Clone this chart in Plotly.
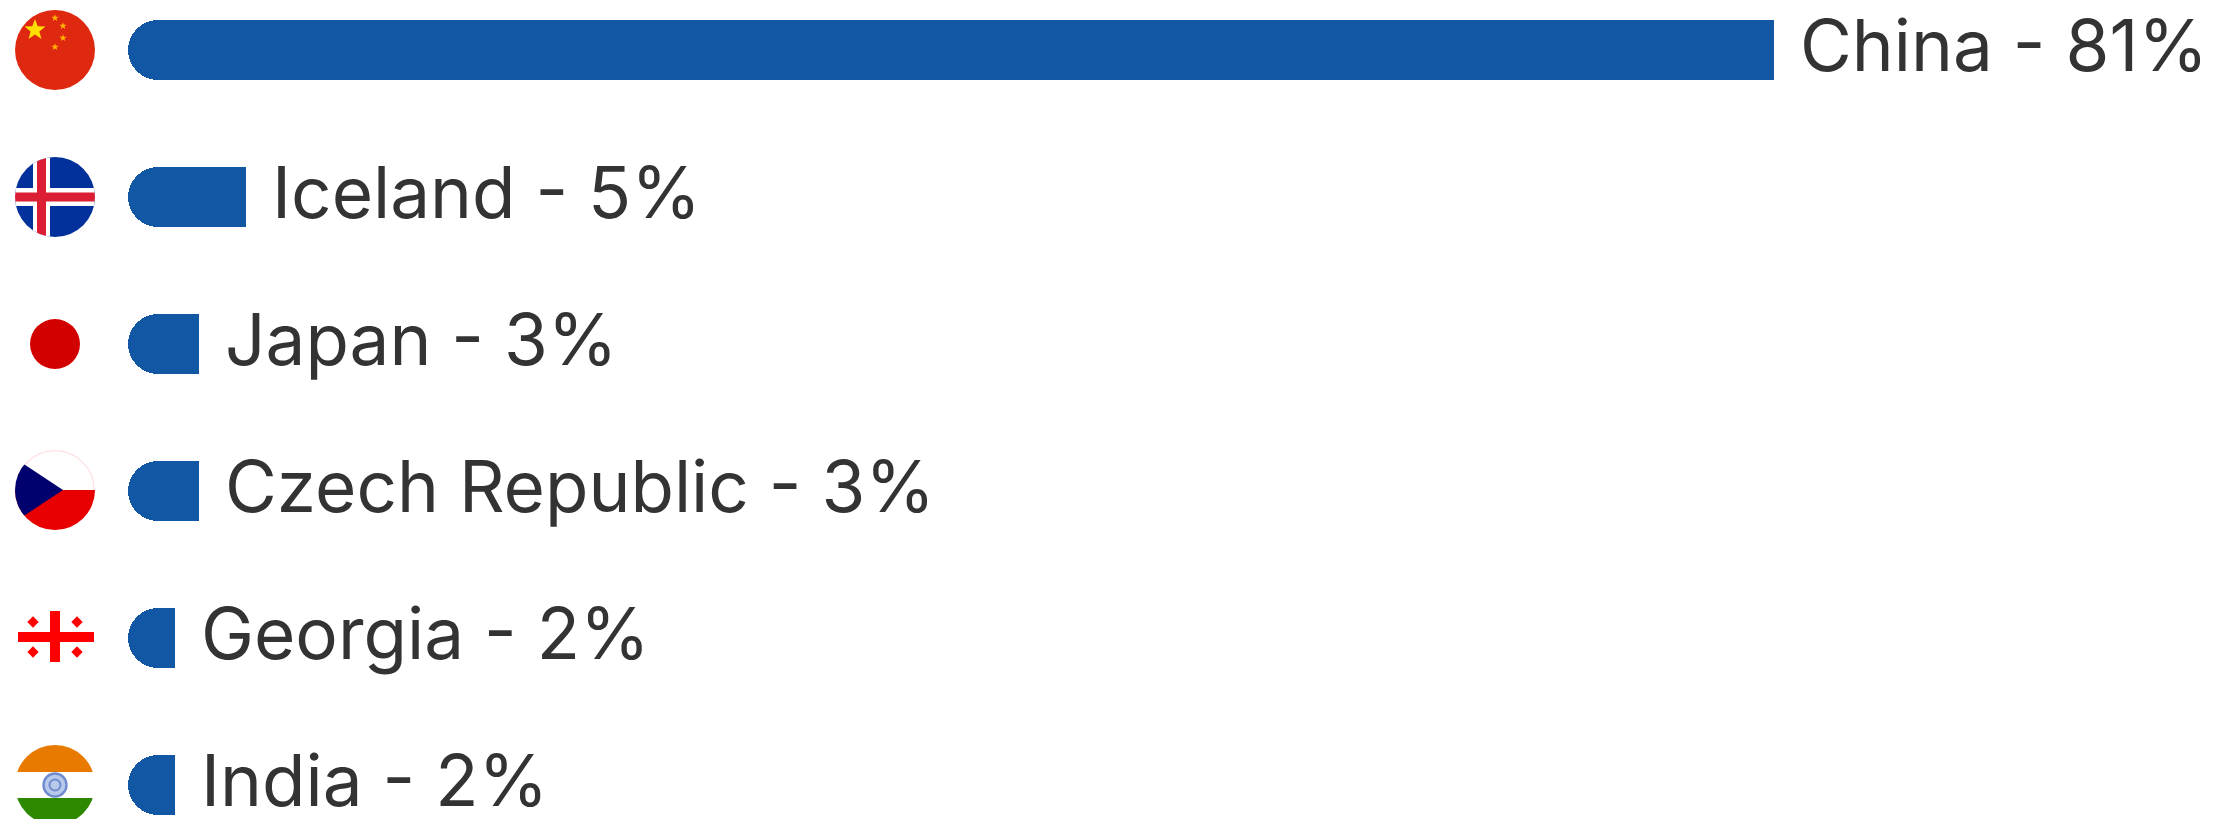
import base64
import math
import plotly.graph_objects as go

countries = ["China", "Iceland", "Japan", "Czech Republic", "Georgia", "India"]
labels = ["81%", "5%", "3%", "3%", "2%", "2%"]
bar_lengths = [81.0, 5.8, 3.5, 3.5, 2.32, 2.32]

W, H = 2229, 819
BAR_X0 = 128
PX_PER_UNIT = (1774 - 128) / 81
ROW0 = 50
ROW_STEP = 147
BAR_COLOR = "#1257a3"
FONT = "Inter, 'Noto Sans', sans-serif"
TEXT_COLOR = "#333333"
AXIS_TOP = max(bar_lengths)


def wrap(body):
    return (
        '<svg xmlns="http://www.w3.org/2000/svg" width="240" height="240" viewBox="0 0 80 80">'
        '<defs><clipPath id="c"><circle cx="40" cy="40" r="40"/></clipPath></defs>'
        f'<g clip-path="url(#c)">{body}</g></svg>'
    )


def star(cx, cy, r, fill):
    pts = []
    for i in range(10):
        rad = r if i % 2 == 0 else r * 0.42
        a = -math.pi / 2 + i * math.pi / 5
        pts.append(f"{cx + rad * math.cos(a):.2f},{cy + rad * math.sin(a):.2f}")
    return f'<polygon points="{" ".join(pts)}" fill="{fill}"/>'


china = '<rect width="80" height="80" fill="#de2910"/>' + star(20, 20, 11, "#ffde00") + "".join(
    star(x, y, 3.8, "#ffb000") for x, y in [(40, 8), (48, 16), (48, 28), (40, 37)]
)
iceland = (
    '<rect width="80" height="80" fill="#02319b"/>'
    '<rect x="18" width="17" height="80" fill="#fff"/><rect y="31" width="80" height="18" fill="#fff"/>'
    '<rect x="22" width="9" height="80" fill="#dc1e35"/><rect y="35.5" width="80" height="9" fill="#dc1e35"/>'
)
japan = '<rect width="80" height="80" fill="#fff"/><circle cx="40" cy="40" r="25" fill="#d30000"/>'
czech = (
    '<circle cx="40" cy="40" r="39.3" fill="#fff" stroke="#ffdcdc" stroke-width="1.2"/>'
    '<rect y="40" width="80" height="40" fill="#e80000"/>'
    '<polygon points="-8,3 48,40 -8,77" fill="#00006f"/>'
)
dots = "".join(
    f'<rect x="{x - 4}" y="{y - 4}" width="8" height="8" fill="#ff0000" transform="rotate(45 {x} {y})"/>'
    for x, y in [(18, 25), (62, 25), (18, 55), (62, 55)]
)
georgia = (
    '<rect width="80" height="80" fill="#fff"/>'
    '<rect x="35" y="14" width="10" height="51" fill="#ff0000"/>'
    '<rect x="3" y="35" width="76" height="10" fill="#ff0000"/>' + dots
)
india = (
    '<rect width="80" height="80" fill="#fff"/>'
    '<rect width="80" height="27" fill="#e87a00"/>'
    '<rect y="53" width="80" height="27" fill="#2d8a00"/>'
    '<circle cx="40" cy="40" r="11.5" fill="#b9c9ea" stroke="#6f8cd0" stroke-width="2.4"/>'
    '<circle cx="40" cy="40" r="5.5" fill="none" stroke="#6f8cd0" stroke-width="2"/>'
)

flags = [
    (china, 50),
    (iceland, 197),
    (japan, 344),
    (czech, 490),
    (georgia, 637),
    (india, 785),
]

images = []
for svg, cy in flags:
    uri = "data:image/svg+xml;base64," + base64.b64encode(wrap(svg).encode()).decode()
    images.append(dict(
        source=uri, xref="paper", yref="paper", x=15 / W, y=1 - (cy - 40) / H,
        sizex=80 / W, sizey=80 / H, xanchor="left", yanchor="top",
        sizing="stretch", layer="above",
    ))

# The x axis is reversed and an invisible spacer is stacked first, so that the
# rounded tip of each visible bar is its left end and all tips line up.
spacers = [AXIS_TOP - v for v in bar_lengths]
fig = go.Figure()
fig.add_bar(
    y=countries, x=spacers, orientation="h", width=60 / ROW_STEP,
    marker=dict(color="rgba(0,0,0,0)", line=dict(width=0)), hoverinfo="skip",
)
fig.add_bar(
    y=countries, x=bar_lengths, orientation="h", width=60 / ROW_STEP,
    marker=dict(color=BAR_COLOR, cornerradius=30, line=dict(width=0)), hoverinfo="skip",
)

annotations = [
    dict(
        x=s, y=c, xref="x", yref="y", text=f"{c} - {l}", showarrow=False,
        xanchor="left", yanchor="middle", xshift=24, yshift=5,
        font=dict(family=FONT, size=71, color=TEXT_COLOR),
    )
    for c, l, s in zip(countries, labels, spacers)
]

fig.update_layout(
    width=W, height=H, margin=dict(l=0, r=0, t=0, b=0), barmode="stack",
    paper_bgcolor="#ffffff", plot_bgcolor="#ffffff", showlegend=False,
    images=images, annotations=annotations,
    xaxis=dict(visible=False, range=[AXIS_TOP + BAR_X0 / PX_PER_UNIT, AXIS_TOP - (W - BAR_X0) / PX_PER_UNIT]),
    yaxis=dict(visible=False, type="category", categoryorder="array", categoryarray=countries,
               range=[(H - ROW0) / ROW_STEP, -ROW0 / ROW_STEP]),
)

fig.write_html(
    "out.html",
    config=dict(displayModeBar=False),
    post_script="document.body.style.margin='0';document.body.style.overflow='hidden';",
)
